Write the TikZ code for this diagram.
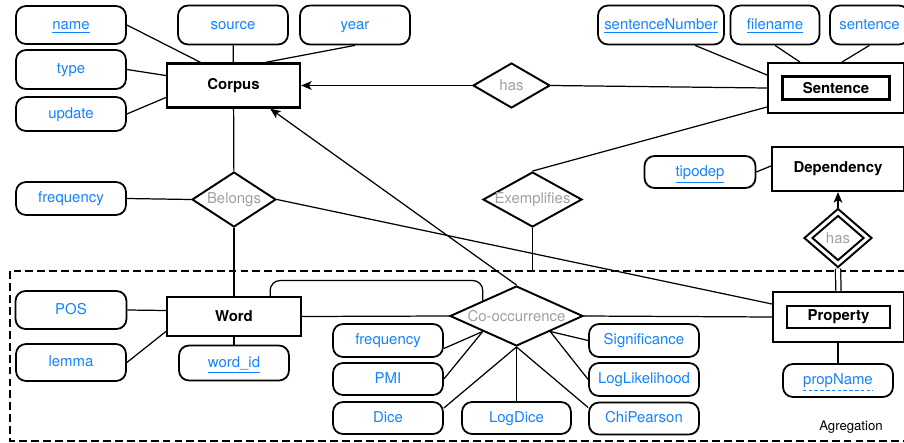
\documentclass[tikz,border=0pt]{standalone}
\usepackage{fontspec}
\setmainfont{TeX Gyre Heros}
\usetikzlibrary{arrows.meta,shapes.geometric}
\definecolor{attrblue}{RGB}{20,130,255}
\definecolor{relgrey}{RGB}{160,160,160}

\begin{document}
\begin{tikzpicture}[x=0.02cm,y=-0.02cm,>={Stealth[length=6pt,width=5pt,inset=1.5pt]},
	every node/.style={font=\fontsize{8.5}{10}\selectfont},
	entity/.style={draw,line width=1.3pt,minimum width=2.66cm,minimum height=0.88cm,font=\fontsize{8.5}{10}\selectfont\bfseries},
	weak/.style={draw,line width=1.1pt,inner sep=0pt},
	attr/.style={draw,line width=1pt,rounded corners=0.2cm,minimum width=2.2cm,minimum height=0.66cm,text=attrblue,text height=0.72em,text depth=0.22em},
	rel/.style={draw,diamond,line width=1.1pt,inner sep=0pt},
	reltext/.style={text=relgrey},
	link/.style={line width=0.7pt},
	aggbox/.style={line width=1.1pt,dash pattern=on 4.5pt off 2.3pt}]
		\useasboundingbox (0,0) rectangle (904,443);
		%\draw [help lines,step=50] (0,0) grid (904,443);
		% Aggregazione
		\draw [aggbox] (10,271) rectangle (915,441);
		\coordinate (aggtop) at (10,271);
		\node [font=\fontsize{7.5}{9}\selectfont] (aggname) at (851,427) {Agregation};
		
		% Corpus
		\node [entity] (corpus) at (233.5,85.5) {Corpus};
		\node [attr,minimum height=0.76cm] (name) at (71,25) {\underline{name}};
		\node [attr,minimum height=0.78cm] (type) at (71,69.5) {type};
		\node [attr,minimum height=0.68cm] (update) at (71,114) {update};
		\node [attr,minimum height=0.78cm] (source) at (233,25) {source};
		\node [attr,minimum height=0.78cm] (year) at (355,25) {year};
		
		% Sentence
		\node [weak,minimum width=2.72cm,minimum height=1cm] (sentence) at (836,88) {};
		\node [weak,line width=1.3pt,minimum width=2.14cm,minimum height=0.46cm,font=\fontsize{8.5}{10}\selectfont\bfseries] (sentencein) at (sentence) {Sentence};
		\node [attr,minimum width=2.52cm,minimum height=0.78cm] (sentnum) at (661,25) {\underline{sentenceNumber}};
		\node [attr,minimum width=1.78cm,minimum height=0.78cm] (filename) at (775,25) {\underline{filename}};
		\node [attr,minimum width=1.58cm,minimum height=0.78cm] (senttext) at (869.5,25) {sentence};
		\node [rel,minimum width=1.54cm,minimum height=0.9cm,label={[reltext]center:has}] (hascorpus) at (511.5,85.5) {};
		
		% Dependency
		\node [entity,minimum width=2.64cm] (dependency) at (838,169) {Dependency};
		\node [attr,minimum width=2.22cm,minimum height=0.64cm] (tipodep) at (700,172) {\underline{tipodep}};
		\node [rel,minimum width=1.36cm,minimum height=1.18cm] (hasdep) at (838,238) {};
		\node [rel,minimum width=1.04cm,minimum height=0.9cm,label={[reltext]center:has}] (hasdepin) at (hasdep) {};
		
		% Belongs / Exemplifies
		\node [rel,minimum width=1.68cm,minimum height=1.1cm,label={[reltext]center:Belongs}] (belongs) at (234,199.5) {};
		\node [attr] (freqa) at (71,198.5) {frequency};
		\node [rel,minimum width=1.98cm,minimum height=1.1cm,label={[reltext]center:Exemplifies}] (exemp) at (532.5,199.5) {};
		
		% Word
		\node [entity,minimum width=2.68cm,minimum height=0.78cm] (word) at (234,316.5) {Word};
		\node [attr,minimum width=2.22cm,minimum height=0.76cm] (pos) at (71,310) {POS};
		\node [attr,minimum height=0.74cm] (lemma) at (71,362.5) {lemma};
		\node [attr,minimum height=0.7cm] (wordid) at (234,363) {\underline{word\_id}};
		
		% Co-occurrence
		\node [rel,minimum width=2.66cm,minimum height=1.2cm,label={[reltext]center:Co-occurrence}] (cooc) at (516.5,316) {};
		\node [attr] (freqb) at (388,340.5) {frequency};
		\node [attr,minimum height=0.64cm] (pmi) at (388,379) {PMI};
		\node [attr,minimum height=0.64cm] (dice) at (388,418) {Dice};
		\node [attr,minimum width=2.18cm,minimum height=0.64cm] (logdice) at (516.5,418) {LogDice};
		\node [attr] (signif) at (644,340.5) {Significance};
		\node [attr] (loglik) at (644,379.5) {LogLikelihood};
		\node [attr,minimum height=0.64cm] (chi) at (644,418.5) {ChiPearson};
		
		% Property
		\node [weak,minimum width=2.62cm,minimum height=1cm] (property) at (838.5,317) {};
		\node [weak,line width=1.3pt,minimum width=2.06cm,minimum height=0.44cm,font=\fontsize{8.5}{10}\selectfont\bfseries] (propertyin) at (property) {Property};
		\node [attr] (propname) at (838,380.5) {};
		\node [text=attrblue,inner sep=0pt] (propnametext) at (propname) {propName};
		\draw [attrblue,line width=0.5pt,dash pattern=on 2pt off 1.3pt] ([yshift=-1.2pt]propnametext.south west) -- ([yshift=-1.2pt]propnametext.south east);
		
		% Collegamenti Corpus
		\draw [link] (name.east) -- ([xshift=-0.66cm]corpus.north);
		\draw [link] (type.east) -- ([yshift=0.2cm]corpus.west);
		\draw [link] (update.east) -- ([yshift=-0.24cm]corpus.west);
		\draw [link] (source) -- (corpus);
		\draw [link] (year.south) -- ([xshift=0.64cm]corpus.north);
		\draw [link,->] (hascorpus.west) -- (corpus.east);
		\draw [link] (hascorpus.east) -- (sentence.west);
		\draw [link] (corpus) -- (belongs);
		
		% Collegamenti Sentence
		\draw [link] ([xshift=0.68cm]sentnum.south) -- ([yshift=0.26cm]sentence.west);
		\draw [link] (filename.south) -- ([xshift=-0.72cm]sentence.north);
		\draw [link] (senttext.south) -- ([xshift=0.12cm]sentence.north);
		\draw [link] ([yshift=-0.38cm]sentence.west) -- (exemp.north);
		\draw [link] (exemp.south) -- (exemp.south |- aggtop);
		
		% Collegamenti Dependency
		\draw [link] (tipodep.east) -- ([yshift=0.06cm]dependency.west);
		\draw [link,->] (hasdep.north) -- (dependency.south);
		\draw [link,double,double distance=0.08cm] (hasdep.south) -- (property.north);
		
		% Collegamenti Belongs
		\draw [link] (freqa.east) -- (belongs.west);
		\draw [link] (belongs.south) -- (word.north);
		\draw [link] (belongs.east) -- ([yshift=0.26cm]property.west);
		
		% Collegamenti Word
		\draw [link] (pos.east) -- ([yshift=0.12cm]word.west);
		\draw [link] (lemma.east) -- ([yshift=-0.3cm]word.west);
		\draw [link] (wordid) -- (word);
		\draw [link] (word.east) -- (cooc.west);
		\path (cooc.north west) ++(0,-20) coordinate (loop);
		\draw [link,rounded corners=0.2cm] ([xshift=-0.64cm]word.north east) |- (loop) -- (cooc.north west);
		
		% Collegamenti Co-occurrence
		\draw [link,->] (cooc.north) -- ([xshift=-0.62cm]corpus.south east);
		\draw [link] (cooc.east) -- (property.west);
		\draw [link] ([yshift=-0.16cm]freqb.east) -- (cooc.south west);
		\draw [link] (pmi.east) -- (cooc.south west);
		\draw [link] ([yshift=0.2cm]dice.east) -- (cooc.south);
		\draw [link] (logdice) -- (cooc);
		\draw [link] ([yshift=0.22cm]chi.west) -- (cooc.south);
		\draw [link] (signif.west) -- (cooc.south east);
		\draw [link] (loglik.west) -- (cooc.south east);
		
		% Collegamenti Property
		\draw [link] (propname.north |- property.south) -- (propname.north);
	\end{tikzpicture}
\end{document}
